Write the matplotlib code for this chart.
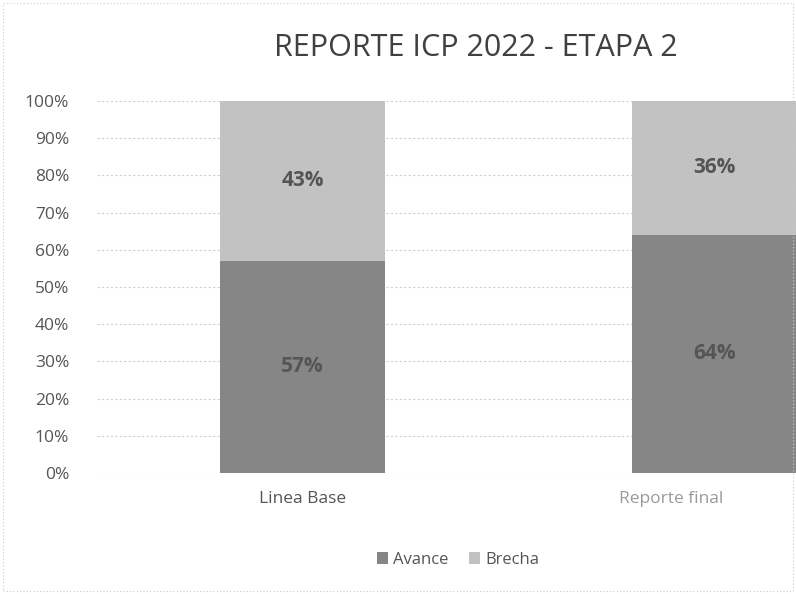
import matplotlib
matplotlib.use("Agg")
import matplotlib.pyplot as plt
import matplotlib.transforms as mtransforms
from matplotlib.patches import Rectangle
from matplotlib.ticker import PercentFormatter

categories = ["Linea Base", "Reporte final"]
avance = [57, 64]
brecha = [43, 36]
series_names = ["Avance", "Brecha"]
yticks = list(range(0, 101, 10))

plt.rcParams['font.family'] = ['Open Sans', 'DejaVu Sans']

W, H = 796, 594
fig = plt.figure(figsize=(W/100, H/100), dpi=100)
fig.patch.set_facecolor('white')

ax_left, ax_right = 97, 797
ax_top, ax_bot = 101, 473
ax = fig.add_axes([ax_left/W, 1-ax_bot/H, (ax_right-ax_left)/W, (ax_bot-ax_top)/H])

x = [0, 1]
c1, c2 = 302.5, 714.5
scale = (c2 - c1)
xmin = (ax_left - c1) / scale
xmax = (ax_right - c1) / scale
width = 165 / scale

col_av = '#868686'
col_br = '#c2c2c2'
ax.bar(x, avance, width=width, color=col_av, label=series_names[0], zorder=2)
ax.bar(x, brecha, width=width, bottom=avance, color=col_br, label=series_names[1], zorder=2)

for xi, a, b in zip(x, avance, brecha):
    ax.text(xi, a/2, f"{a}%", ha='center', va='center', fontsize=15,
            fontweight='bold', color='#555555', zorder=3)
    ax.text(xi, a + b/2, f"{b}%", ha='center', va='center', fontsize=15,
            fontweight='bold', color='#555555', zorder=3)

ax.set_xlim(xmin, xmax)
ax.set_ylim(0, 100)
ax.set_yticks(yticks)
ax.yaxis.set_major_formatter(PercentFormatter(decimals=0))
ax.set_xticks(x)
ax.set_xticklabels(categories)
ax.tick_params(axis='both', length=0, labelsize=12.5, colors='#555555')
ax.tick_params(axis='y', pad=20)
ax.tick_params(axis='x', pad=13)
for s in ax.spines.values():
    s.set_visible(False)
ax.grid(axis='y', color='#d0d0d0', linestyle=(0, (2, 2)), linewidth=0.8, zorder=0)
ax.set_axisbelow(True)

xl = ax.get_xticklabels()
off = mtransforms.ScaledTranslation(-43/100, 0, fig.dpi_scale_trans)
xl[1].set_transform(xl[1].get_transform() + off)
xl[1].set_color('#9a9a9a')

fig.text(476/W, 1-48/H, "REPORTE ICP 2022 - ETAPA 2", ha='center', va='center',
         fontsize=22, color='#404040')

leg = fig.legend(loc='center', bbox_to_anchor=(458/W, 1-560/H), ncol=2, frameon=False,
                 fontsize=12, handlelength=0.7, handleheight=0.7, columnspacing=1.2,
                 handletextpad=0.3)
for t in leg.get_texts():
    t.set_color('#555555')

fig.patches.append(Rectangle((3/W, 3/H), 1-6/W, 1-6/H, transform=fig.transFigure,
                             fill=False, edgecolor='#cccccc', linewidth=0.8,
                             linestyle=(0, (1, 2))))

fig.savefig("out.png", dpi=100)
